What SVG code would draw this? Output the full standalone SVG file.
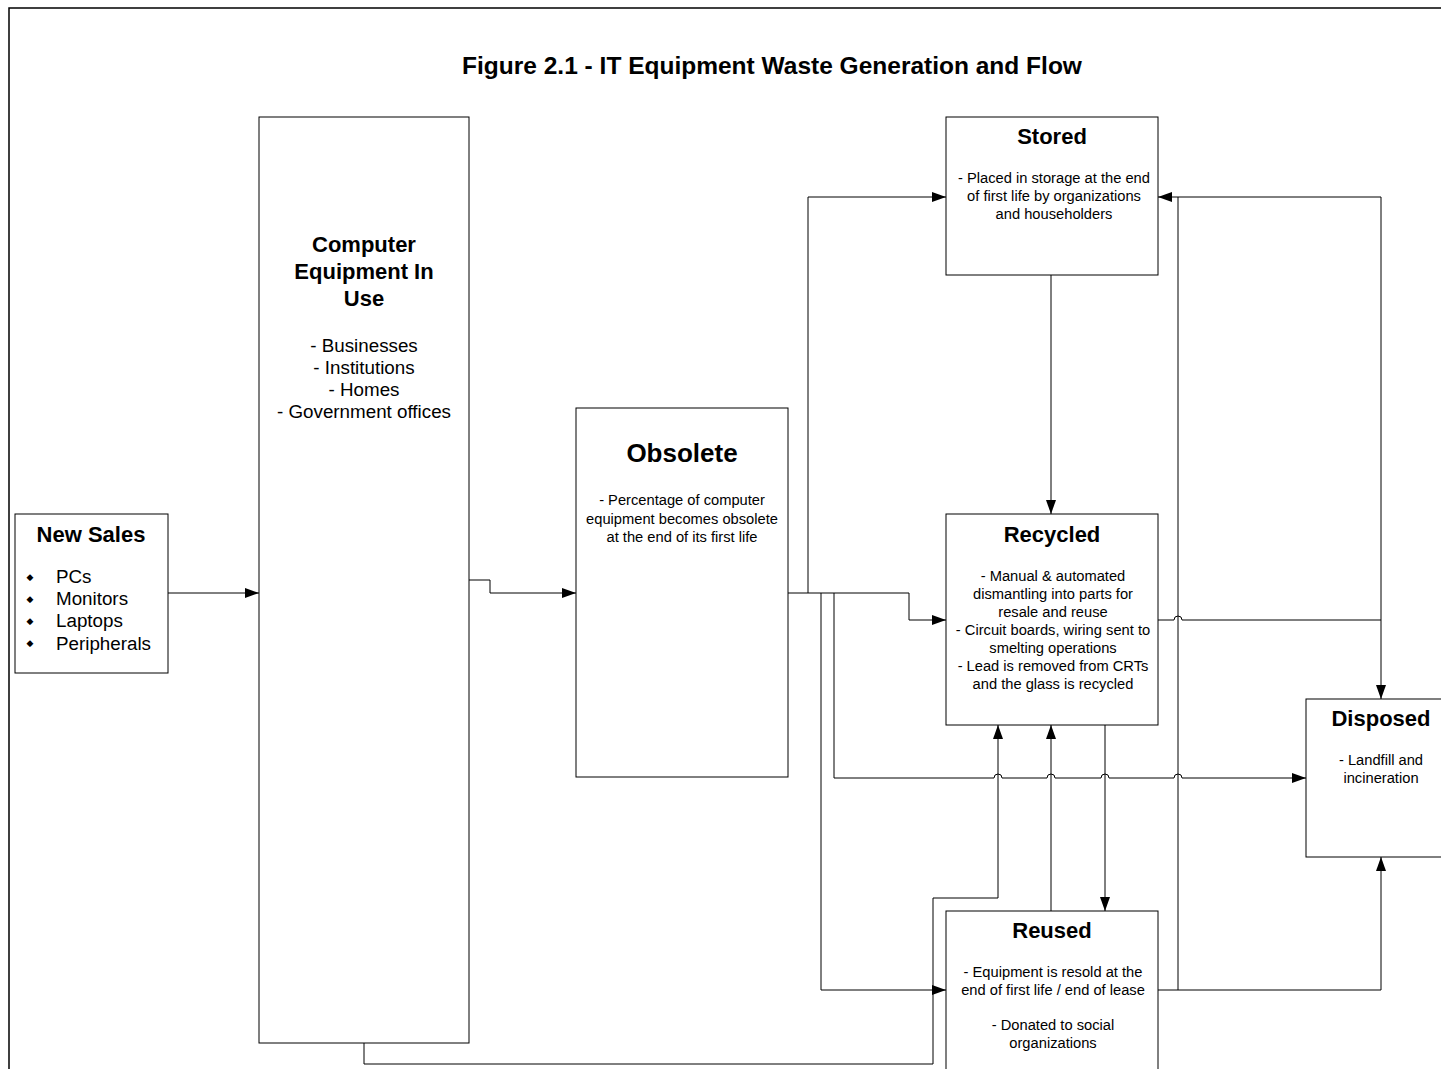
<svg xmlns="http://www.w3.org/2000/svg" width="1441" height="1069" viewBox="0 0 1441 1069">
<style>
.box{fill:#fff;stroke:#000;stroke-width:1}
.c{fill:none;stroke:#000;stroke-width:1}
.t{font-family:"Liberation Sans",Arial,sans-serif;fill:#000;text-anchor:middle}
.h{font-weight:bold;font-size:22px}
.s{font-size:14.7px}
.m{font-size:18.8px}
</style>
<defs>
<marker id="a" markerUnits="userSpaceOnUse" markerWidth="14" markerHeight="10" refX="14" refY="5" orient="auto">
<path d="M0,0 L14,5 L0,10 z" fill="#000"/>
</marker>
</defs>
<rect x="0" y="0" width="1441" height="1069" fill="#fff"/>
<rect x="9" y="8" width="1450" height="1080" fill="none" stroke="#000" stroke-width="1.5"/>
<text id="title" class="t" x="772" y="74" style="font-weight:bold;font-size:24.5px">Figure 2.1 - IT Equipment Waste Generation and Flow</text>

<g id="connectors">
<path class="c" d="M168,593 H259" marker-end="url(#a)"/>
<path class="c" d="M469,580 H490 V593 H576" marker-end="url(#a)"/>
<path class="c" d="M788,593 H909 V620 H946" marker-end="url(#a)"/>
<path class="c" d="M808,593 V197 H946" marker-end="url(#a)"/>
<path class="c" d="M821,593 V990 H946" marker-end="url(#a)"/>
<path class="c" d="M834,593 V778 H994 A4,4 0 0,1 1002,778 H1047 A4,4 0 0,1 1055,778 H1101 A4,4 0 0,1 1109,778 H1174 A4,4 0 0,1 1182,778 H1306" marker-end="url(#a)"/>
<path class="c" d="M1051,275 V514" marker-end="url(#a)"/>
<path class="c" d="M1158,620 H1174 A4,4 0 0,1 1182,620 H1381 V699" marker-end="url(#a)"/>
<path class="c" d="M1381,620 V197 H1158" marker-end="url(#a)"/>
<path class="c" d="M1158,990 H1178 V197"/>
<path class="c" d="M1178,990 H1381 V857" marker-end="url(#a)"/>
<path class="c" d="M1051,911 V725" marker-end="url(#a)"/>
<path class="c" d="M1105,725 V911" marker-end="url(#a)"/>
<path class="c" d="M364,1043 V1064 H933 V898 H998 V725" marker-end="url(#a)"/>
</g>

<g id="new-sales">
<rect class="box" x="15" y="514" width="153" height="159"/>
<text class="t h" x="91" y="542">New Sales</text>
<g font-family="DejaVu Sans,sans-serif" font-size="9" fill="#000" text-anchor="middle">
<text x="30" y="580">◆</text>
<text x="30" y="602">◆</text>
<text x="30" y="624">◆</text>
<text x="30" y="646">◆</text>
</g>
<g class="t m" style="text-anchor:start">
<text x="56" y="583">PCs</text>
<text x="56" y="605">Monitors</text>
<text x="56" y="627">Laptops</text>
<text x="56" y="650">Peripherals</text>
</g>
</g>

<g id="in-use">
<rect class="box" x="259" y="117" width="210" height="926"/>
<text class="t h" x="364" y="252">Computer</text>
<text class="t h" x="364" y="279">Equipment In</text>
<text class="t h" x="364" y="306">Use</text>
<text class="t m" x="364" y="352">- Businesses</text>
<text class="t m" x="364" y="374">- Institutions</text>
<text class="t m" x="364" y="396">- Homes</text>
<text class="t m" x="364" y="418">- Government offices</text>
</g>

<g id="obsolete">
<rect class="box" x="576" y="408" width="212" height="369"/>
<text class="t h" x="682" y="462" style="font-size:26px">Obsolete</text>
<text class="t s" x="682" y="505">- Percentage of computer</text>
<text class="t s" x="682" y="524">equipment becomes obsolete</text>
<text class="t s" x="682" y="542">at the end of its first life</text>
</g>

<g id="stored">
<rect class="box" x="946" y="117" width="212" height="158"/>
<text class="t h" x="1052" y="144">Stored</text>
<text class="t s" x="1054" y="183">- Placed in storage at the end</text>
<text class="t s" x="1054" y="201">of first life by organizations</text>
<text class="t s" x="1054" y="219">and householders</text>
</g>

<g id="recycled">
<rect class="box" x="946" y="514" width="212" height="211"/>
<text class="t h" x="1052" y="542">Recycled</text>
<text class="t s" x="1053" y="581">- Manual &amp; automated</text>
<text class="t s" x="1053" y="599">dismantling into parts for</text>
<text class="t s" x="1053" y="617">resale and reuse</text>
<text class="t s" x="1053" y="635">- Circuit boards, wiring sent to</text>
<text class="t s" x="1053" y="653">smelting operations</text>
<text class="t s" x="1053" y="671">- Lead is removed from CRTs</text>
<text class="t s" x="1053" y="689">and the glass is recycled</text>
</g>

<g id="reused">
<rect class="box" x="946" y="911" width="212" height="170"/>
<text class="t h" x="1052" y="938">Reused</text>
<text class="t s" x="1053" y="977">- Equipment is resold at the</text>
<text class="t s" x="1053" y="995">end of first life / end of lease</text>
<text class="t s" x="1053" y="1030">- Donated to social</text>
<text class="t s" x="1053" y="1048">organizations</text>
</g>

<g id="disposed">
<rect class="box" x="1306" y="699" width="150" height="158"/>
<text class="t h" x="1381" y="726">Disposed</text>
<text class="t s" x="1381" y="765">- Landfill and</text>
<text class="t s" x="1381" y="783">incineration</text>
</g>
</svg>
